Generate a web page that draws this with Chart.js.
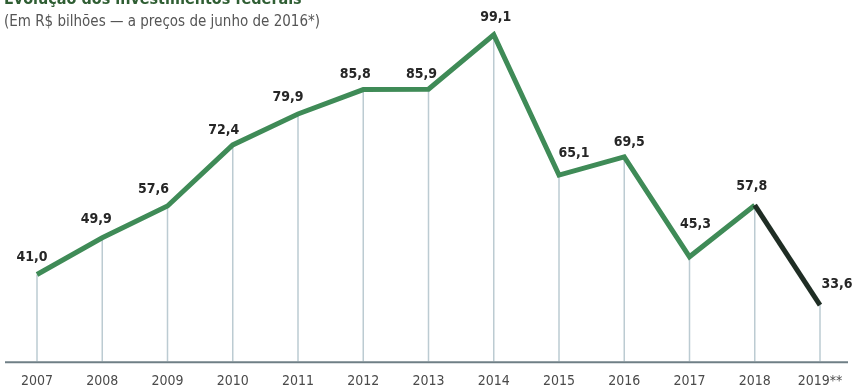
<!DOCTYPE html>
<html lang="pt-BR">
<head>
  <meta charset="UTF-8">
  <title>Evolução dos investimentos federais</title>
  <script src="https://cdn.jsdelivr.net/npm/chart.js"></script>
  <style>
    body {
      margin: 0;
      background: #fff;
    }

    #wrap {
      position: relative;
      width: 858px;
      height: 392px;
      overflow: hidden;
      font-family: "DejaVu Sans Condensed", "DejaVu Sans", sans-serif;
    }

    #title {
      position: absolute;
      left: 4px;
      top: -11px;
      font-size: 16px;
      font-weight: bold;
      color: #2f5e33;
      white-space: nowrap;
    }

    #subtitle {
      position: absolute;
      left: 4px;
      top: 12px;
      font-size: 15px;
      color: #555;
      white-space: nowrap;
    }

    canvas {
      position: absolute;
      left: 0;
      top: 0;
    }
  </style>
</head>
<body>
  <div id="wrap">
    <canvas id="chart" width="858" height="392"></canvas>
    <div id="title">Evolução dos investimentos federais</div>
    <div id="subtitle">(Em R$ bilhões — a preços de junho de 2016*)</div>
  </div>
  <script>
    // investimentos federais, R$ bilhões
    const years = ["2007", "2008", "2009", "2010", "2011", "2012", "2013",
      "2014", "2015", "2016", "2017", "2018", "2019**"];
    const invest = [41.0, 49.9, 57.6, 72.4, 79.9, 85.8, 85.9, 99.1, 65.1, 69.5, 45.3, 57.8, 33.6];

    const green = "#3f8b57";
    const dark = "#1f2d24";
    const font = "'DejaVu Sans Condensed', 'DejaVu Sans', sans-serif";

    // where each value label sits relative to its point
    const labelOffsets = [
      [-5, -17], [-6, -18], [-14, -17], [-9, -15], [-10, -17], [-8, -15], [-7, -15],
      [2, -17], [15, -22], [5, -15], [6, -32], [-3, -19], [17, -21]
    ];

    const fmt = v => v.toFixed(1).replace(".", ",");

    // thin drop lines under each point plus the base line
    const guides = {
      id: "guides",
      beforeDatasetsDraw(chart) {
        const { ctx, chartArea } = chart;
        const pts = chart.getDatasetMeta(0).data;
        ctx.save();
        ctx.strokeStyle = "#bccbd2";
        ctx.lineWidth = 1.5;
        ctx.beginPath();
        pts.forEach(p => {
          ctx.moveTo(p.x, p.y);
          ctx.lineTo(p.x, chartArea.bottom);
        });
        ctx.stroke();

        ctx.strokeStyle = "#6f7f86";
        ctx.lineWidth = 2;
        ctx.beginPath();
        ctx.moveTo(5, chartArea.bottom + 1);
        ctx.lineTo(chart.width - 10, chartArea.bottom + 1);
        ctx.stroke();
        ctx.restore();
      }
    };

    const valueLabels = {
      id: "valueLabels",
      afterDatasetsDraw(chart) {
        const { ctx } = chart;
        const pts = chart.getDatasetMeta(0).data;
        ctx.save();
        ctx.font = "bold 14px " + font;
        ctx.fillStyle = "#262626";
        ctx.textAlign = "center";
        ctx.textBaseline = "middle";
        pts.forEach((p, i) => {
          const [dx, dy] = labelOffsets[i];
          ctx.fillText(fmt(invest[i]), p.x + dx, p.y + dy);
        });
        ctx.restore();
      }
    };

    new Chart(document.getElementById("chart"), {
      type: "line",
      data: {
        labels: years,
        datasets: [{
          data: invest,
          borderColor: green,
          borderWidth: 5,
          pointRadius: 0,
          tension: 0,
          borderCapStyle: "butt",
          segment: {
            borderColor: c => c.p1DataIndex === invest.length - 1 ? dark : undefined
          }
        }]
      },
      options: {
        responsive: false,
        animation: false,
        devicePixelRatio: 1,
        layout: {
          padding: { left: 37, right: 38, top: 31, bottom: -10 }
        },
        plugins: {
          legend: { display: false },
          tooltip: { enabled: false }
        },
        scales: {
          x: {
            offset: false,
            grid: { display: false, drawTicks: false },
            border: { display: false },
            ticks: {
              color: "#4a4a4a",
              font: { family: font, size: 14 },
              padding: 12,
              maxRotation: 0,
              autoSkip: false
            }
          },
          y: {
            display: false,
            min: 20,
            max: 100
          }
        }
      },
      plugins: [guides, valueLabels]
    });
  </script>
</body>
</html>
